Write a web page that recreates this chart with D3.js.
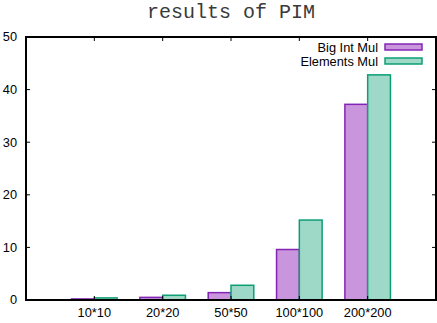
<!DOCTYPE html>
<html>
<head>
<meta charset="utf-8">
<script src="https://cdn.jsdelivr.net/npm/d3@7"></script>
<style>
  body { margin: 0; background: #fff; }
  text { font-family: "Liberation Sans", Arial, sans-serif; font-size: 12.8px; fill: #000; }
  .title { font-family: "Liberation Mono", "Courier New", monospace; font-size: 20px; fill: #3a3a3a; font-weight: 300; }
</style>
</head>
<body>
<div id="chart"></div>
<script>
// chart data
const categories = ["10*10", "20*20", "50*50", "100*100", "200*200"];
const bigIntMul = [0.2, 0.5, 1.4, 9.6, 37.2];
const elementsMul = [0.4, 0.9, 2.8, 15.2, 42.8];
const yTicks = [0, 10, 20, 30, 40, 50];

const WIDTH = 437, HEIGHT = 323;
const MARGINS = {left: 26, right: 1, top: 37, bottom: 23};

const svg = d3.select('#chart')
  .append('svg')
    .attr('width', WIDTH)
    .attr('height', HEIGHT);

// gnuplot style histogram: clusters at 0..n-1, xrange [-1, n]
const xScale = d3.scaleLinear()
  .domain([-1, categories.length])
  .range([MARGINS.left, WIDTH - MARGINS.right]);
const yScale = d3.scaleLinear()
  .domain([0, 50])
  .range([HEIGHT - MARGINS.bottom, MARGINS.top]);

const series = [
  {name: "Big Int Mul", values: bigIntMul, fill: "#c996dd", stroke: "#8424b4", offset: -1/3},
  {name: "Elements Mul", values: elementsMul, fill: "#9ed8c6", stroke: "#0d9e76", offset: 0}
];
const barW = 1/3;

// bars
series.forEach(function(s) {
  svg.append('g')
    .selectAll('rect')
    .data(s.values)
    .enter()
    .append('rect')
      .attr('x', function(d, i) { return xScale(i + s.offset); })
      .attr('y', function(d) { return yScale(d); })
      .attr('width', function(d, i) { return xScale(i + s.offset + barW) - xScale(i + s.offset); })
      .attr('height', function(d) { return yScale(0) - yScale(d); })
      .attr('fill', s.fill)
      .attr('stroke', s.stroke)
      .attr('stroke-width', 1.5);
});

// ticks (inward, mirrored)
const x0 = MARGINS.left, x1 = WIDTH - MARGINS.right;
const y0 = HEIGHT - MARGINS.bottom, y1 = MARGINS.top;
const ticks = svg.append('g').attr('stroke', '#000').attr('stroke-width', 1);
yTicks.forEach(function(t) {
  ticks.append('line').attr('x1', x0).attr('x2', x0 + 4).attr('y1', yScale(t)).attr('y2', yScale(t));
  ticks.append('line').attr('x1', x1).attr('x2', x1 - 4).attr('y1', yScale(t)).attr('y2', yScale(t));
});
categories.forEach(function(c, i) {
  ticks.append('line').attr('x1', xScale(i)).attr('x2', xScale(i)).attr('y1', y0).attr('y2', y0 - 4);
  ticks.append('line').attr('x1', xScale(i)).attr('x2', xScale(i)).attr('y1', y1).attr('y2', y1 + 4);
});

// frame
svg.append('rect')
  .attr('x', x0).attr('y', y1)
  .attr('width', x1 - x0).attr('height', y0 - y1)
  .attr('fill', 'none')
  .attr('stroke', '#000')
  .attr('stroke-width', 2);

// tick labels
svg.append('g').selectAll('text')
  .data(yTicks).enter().append('text')
    .attr('x', 17)
    .attr('y', function(d) { return yScale(d); })
    .attr('dy', '0.35em')
    .attr('text-anchor', 'end')
    .text(function(d) { return d; });

svg.append('g').selectAll('text')
  .data(categories).enter().append('text')
    .attr('x', function(d, i) { return xScale(i); })
    .attr('y', 317)
    .attr('text-anchor', 'middle')
    .text(function(d) { return d; });

// legend
series.forEach(function(s, i) {
  const ly = 47 + i * 14;
  svg.append('text')
    .attr('x', 378).attr('y', ly + 4.5)
    .attr('text-anchor', 'end')
    .text(s.name);
  svg.append('rect')
    .attr('x', 385).attr('y', ly - 3)
    .attr('width', 37).attr('height', 6)
    .attr('fill', s.fill)
    .attr('stroke', s.stroke)
    .attr('stroke-width', 1.5);
});

// title
svg.append('text')
  .attr('class', 'title')
  .attr('x', (x0 + x1) / 2)
  .attr('y', 18)
  .attr('text-anchor', 'middle')
  .text("results of PIM");
</script>
</body>
</html>
